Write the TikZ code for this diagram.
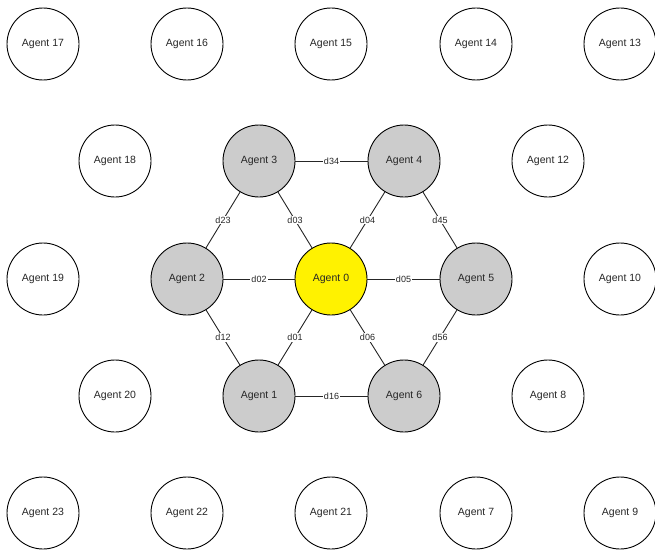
\documentclass[tikz,border=0pt]{standalone}
\usepackage{fontspec}
\setmainfont{Liberation Sans}
\begin{document}
\begin{tikzpicture}[x=1pt,y=-1pt,
  agent/.style={circle,draw=black,line width=0.9pt,minimum size=72pt,inner sep=0pt,font=\fontsize{10.5}{12}\selectfont,text=black!85},
  core/.style={agent,fill=black!20},
  hub/.style={agent,fill=yellow},
  link/.style={draw=black!85,line width=0.9pt},
  dist/.style={fill=white,inner sep=1pt,font=\fontsize{9}{10}\selectfont,text=black!85}]
\useasboundingbox (0,0) rectangle (655,551);
% outer ring
\node[agent] (a17) at (43,44) {Agent 17};
\node[agent] (a16) at (187,44) {Agent 16};
\node[agent] (a15) at (331,44) {Agent 15};
\node[agent] (a14) at (476,44) {Agent 14};
\node[agent] (a13) at (620,44) {Agent 13};
\node[agent] (a18) at (115,161) {Agent 18};
\node[agent] (a12) at (548,161) {Agent 12};
\node[agent] (a19) at (43,279) {Agent 19};
\node[agent] (a10) at (620,279) {Agent 10};
\node[agent] (a20) at (115,396) {Agent 20};
\node[agent] (a8) at (548,396) {Agent 8};
\node[agent] (a23) at (43,513) {Agent 23};
\node[agent] (a22) at (187,513) {Agent 22};
\node[agent] (a21) at (331,513) {Agent 21};
\node[agent] (a7) at (476,513) {Agent 7};
\node[agent] (a9) at (620,513) {Agent 9};
% inner hexagon
\node[hub] (a0) at (331,279) {Agent 0};
\node[core] (a1) at (259,396) {Agent 1};
\node[core] (a2) at (187,279) {Agent 2};
\node[core] (a3) at (259,161) {Agent 3};
\node[core] (a4) at (404,161) {Agent 4};
\node[core] (a5) at (476,279) {Agent 5};
\node[core] (a6) at (404,396) {Agent 6};
% distances
\draw[link] (a0) -- node[dist] {d01} (a1);
\draw[link] (a0) -- node[dist] {d02} (a2);
\draw[link] (a0) -- node[dist] {d03} (a3);
\draw[link] (a0) -- node[dist] {d04} (a4);
\draw[link] (a0) -- node[dist] {d05} (a5);
\draw[link] (a0) -- node[dist] {d06} (a6);
\draw[link] (a1) -- node[dist] {d12} (a2);
\draw[link] (a2) -- node[dist] {d23} (a3);
\draw[link] (a3) -- node[dist] {d34} (a4);
\draw[link] (a4) -- node[dist] {d45} (a5);
\draw[link] (a5) -- node[dist] {d56} (a6);
\draw[link] (a1) -- node[dist] {d16} (a6);
\end{tikzpicture}
\end{document}
